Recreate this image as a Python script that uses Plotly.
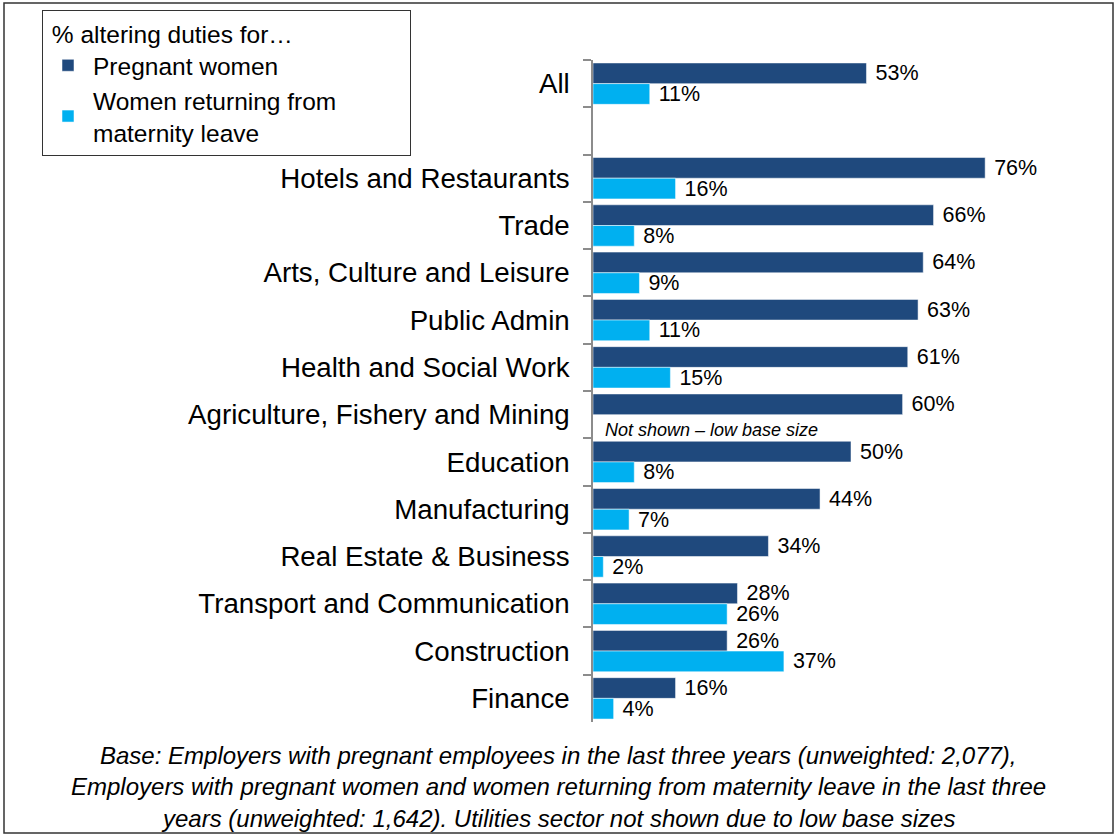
import plotly.graph_objects as go

# Sectors (top to bottom); a blank row separates "All" from the sectors
categories = [
    "All", " ",
    "Hotels and Restaurants", "Trade", "Arts, Culture and Leisure",
    "Public Admin", "Health and Social Work", "Agriculture, Fishery and Mining",
    "Education", "Manufacturing", "Real Estate & Business",
    "Transport and Communication", "Construction", "Finance",
]
pregnant = [53, None, 76, 66, 64, 63, 61, 60, 50, 44, 34, 28, 26, 16]
returning = [11, None, 16, 8, 9, 11, 15, None, 8, 7, 2, 26, 37, 4]

series_names = ["Pregnant women", "Women returning from<br>maternity leave"]
legend_title = "% altering duties for…"
footnote_lines = [
    "Base: Employers with pregnant employees in the last three years (unweighted: 2,077),",
    "Employers with pregnant women and women returning from maternity leave in the last three",
    "years (unweighted: 1,642). Utilities sector not shown due to low base sizes",
]
missing_note = "Not shown – low base size"

DARK = "#1F497D"
LIGHT = "#00B0F0"
FONT = "Liberation Sans, Arial, sans-serif"
NBSP = "\u00a0"

W, H = 1117, 837
ML, MR, MT, MB = 593, 8, 60, 115
PW, PH = W - ML - MR, H - MT - MB

# Legend entries padded on the right so the legend box spans its full width
legend_names = [series_names[0], series_names[1].replace("<br>", NBSP * 10 + "<br>")]

fig = go.Figure()
for vals, name, color in [(pregnant, legend_names[0], DARK), (returning, legend_names[1], LIGHT)]:
    fig.add_trace(go.Bar(
        y=categories, x=vals, orientation="h", name=name,
        marker=dict(color=color, line=dict(color="rgba(255,255,255,0.5)", width=1)),
        text=[None if v is None else f" {v}%" for v in vals],
        textposition="outside", constraintext="none", cliponaxis=False,
        textfont=dict(family=FONT, size=21.5, color="black"),
        hoverinfo="skip",
    ))

fig.update_layout(
    width=W, height=H,
    margin=dict(l=ML, r=MR, t=MT, b=MB, autoexpand=False),
    barmode="group", bargap=0.125, bargroupgap=0,
    plot_bgcolor="white", paper_bgcolor="white",
    font=dict(family=FONT, color="black"),
    xaxis=dict(range=[0, 100], visible=False, fixedrange=True),
    yaxis=dict(
        autorange="reversed", type="category",
        showline=True, linecolor="#8C8C8C", linewidth=1.5,
        ticks="outside", tickson="boundaries", ticklen=8, tickcolor="#8C8C8C", tickwidth=1.5,
        tickfont=dict(family=FONT, size=27.7, color="black"),
        ticklabelstandoff=16,
        showgrid=False, zeroline=False,
    ),
    legend=dict(
        xref="container", yref="container",
        x=42 / W, y=1 - 10 / H, xanchor="left", yanchor="top",
        bordercolor="#333333", borderwidth=1, bgcolor="white",
        font=dict(family=FONT, size=24.5, color="black"),
        title=dict(text=NBSP + legend_title, font=dict(family=FONT, size=24.5, color="black")),
        traceorder="normal", itemclick=False, itemwidth=40,
    ),
    showlegend=True,
)

# Outer frame around the whole graphic
fig.add_shape(
    type="rect", xref="paper", yref="paper",
    x0=(4 - ML) / PW, x1=(1113 - ML) / PW,
    y0=(H - MB - 833) / PH, y1=(H - MB - 3) / PH,
    line=dict(color="#333333", width=1.5), layer="below",
)

# Note in place of the missing bar
fig.add_annotation(
    x=0, y="Agriculture, Fishery and Mining", xref="x", yref="y",
    text=f"<i>{missing_note}</i>", showarrow=False,
    xanchor="left", xshift=10, yshift=-15,
    font=dict(family=FONT, size=18, color="black"),
)

# Base note under the chart
for i, line in enumerate(footnote_lines):
    y_px = 755 + i * 31.5
    fig.add_annotation(
        x=(558 - ML) / PW, y=(H - MB - y_px) / PH, xref="paper", yref="paper",
        text=f"<i>{line}</i>", showarrow=False, xanchor="center", yanchor="middle",
        font=dict(family=FONT, size=24, color="black"),
    )

fig.write_html("out.html")
